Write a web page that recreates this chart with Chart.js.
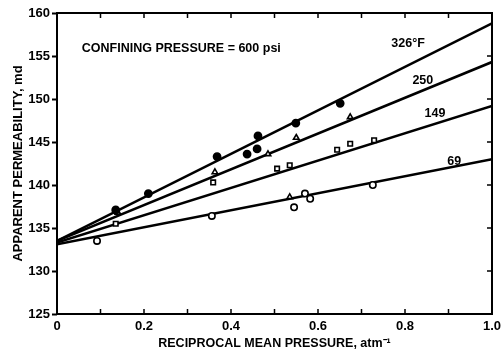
<!DOCTYPE html>
<html>
<head>
<meta charset="utf-8">
<script src="https://cdn.jsdelivr.net/npm/chart.js@4.4.1/dist/chart.umd.min.js"></script>
<style>
  html, body { margin: 0; padding: 0; background: #fff; }
  #wrap { width: 502px; height: 351px; }
</style>
</head>
<body>
<div id="wrap"><canvas id="permChart"></canvas></div>
<script>
// --- data ---
const xTickValues = [0, 0.2, 0.4, 0.6, 0.8, 1.0];
const xTickLabels = ['0', '0.2', '0.4', '0.6', '0.8', '1.0'];

const seriesNames = ['326°F', '250', '149', '69'];
const lineX = [0, 1];
const line326 = [133.5, 158.8];
const line250 = [133.5, 154.3];
const line149 = [133.3, 149.2];
const line69 = [133.1, 143.0];

const x326 = [0.135, 0.21, 0.368, 0.437, 0.46, 0.462, 0.549, 0.651];
const y326 = [137.1, 139.0, 143.3, 143.6, 144.2, 145.7, 147.2, 149.5];
const x250 = [0.14, 0.363, 0.485, 0.55, 0.674];
const y250 = [136.8, 141.5, 143.6, 145.5, 147.9];
const x149 = [0.135, 0.359, 0.506, 0.535, 0.644, 0.674, 0.729];
const y149 = [135.5, 140.3, 141.9, 142.3, 144.1, 144.8, 145.2];
const x69 = [0.092, 0.356, 0.535, 0.545, 0.57, 0.582, 0.726];
const y69 = [133.5, 136.4, 138.6, 137.4, 139.0, 138.4, 140.0];
const style69 = ['circle', 'circle', 'triangle', 'circle', 'circle', 'circle', 'circle'];

// where the curve labels sit (data units)
const labelX = [0.807, 0.841, 0.869, 0.913];
const labelY = [156.4, 152.2, 148.3, 142.7];
const noteText = 'CONFINING PRESSURE = 600 psi';

const pts = (xs, ys) => xs.map((x, i) => ({ x: x, y: ys[i] }));

const FONT = '"Liberation Sans", Arial, sans-serif';
Chart.defaults.color = '#000';
Chart.defaults.font.family = FONT;
Chart.defaults.font.weight = 'bold';

const lineDs = (d) => ({ type: 'line', data: pts(lineX, d), borderColor: '#000', borderWidth: 2.6, pointRadius: 0, fill: false, order: 2 });
const markDs = (xs, ys, style, filled) => ({
    type: 'scatter', data: pts(xs, ys), pointStyle: style, pointRadius: filled ? 3.6 : 3.2,
    backgroundColor: filled ? '#000' : '#fff', borderColor: '#000', borderWidth: 1.6, order: 1
});

// frame, inward ticks and text notes
const decor = {
    id: 'decor',
    afterDraw(chart) {
        const c = chart.ctx, a = chart.chartArea, sx = chart.scales.x, sy = chart.scales.y;
        c.save();
        c.strokeStyle = '#000';
        c.lineWidth = 2;
        c.strokeRect(a.left, a.top, a.right - a.left, a.bottom - a.top);
        c.lineWidth = 1.5;
        c.beginPath();
        sx.ticks.forEach(t => {
            const px = sx.getPixelForValue(t.value);
            c.moveTo(px, a.bottom); c.lineTo(px, a.bottom - 5);
            c.moveTo(px, a.top); c.lineTo(px, a.top + 5);
        });
        sy.ticks.forEach(t => {
            const py = sy.getPixelForValue(t.value);
            c.moveTo(a.right, py); c.lineTo(a.right - 5, py);
        });
        c.stroke();

        c.fillStyle = '#000';
        c.textBaseline = 'middle';
        c.textAlign = 'left';
        c.font = 'bold 12.5px ' + FONT;
        c.fillText(noteText, sx.getPixelForValue(0.057), sy.getPixelForValue(155.9));
        c.textAlign = 'center';
        seriesNames.forEach((s, i) => {
            c.fillText(s, sx.getPixelForValue(labelX[i]), sy.getPixelForValue(labelY[i]));
        });
        c.restore();
    }
};

const ctx = document.getElementById('permChart').getContext('2d');
const permChart = new Chart(ctx, {
    data: {
        datasets: [
            lineDs(line326), lineDs(line250), lineDs(line149), lineDs(line69),
            markDs(x326, y326, 'circle', true),
            markDs(x250, y250, 'triangle', false),
            markDs(x149, y149, 'rect', false),
            markDs(x69, y69, style69, false)
        ]
    },
    options: {
        responsive: true, maintainAspectRatio: false, animation: false,
        layout: { padding: { top: 13, right: 10, left: 0, bottom: 0 } },
        plugins: { legend: { display: false }, tooltip: { enabled: false } },
        scales: {
            x: {
                type: 'linear', min: 0, max: 1,
                afterFit: s => { s.height = 37; },
                grid: { display: false }, border: { display: false },
                ticks: {
                    stepSize: 0.1, autoSkip: false, maxRotation: 0, padding: -3,
                    font: { size: 13, weight: 'bold' },
                    callback: v => {
                        const i = xTickValues.findIndex(t => Math.abs(t - v) < 1e-6);
                        return i >= 0 ? xTickLabels[i] : '';
                    }
                },
                title: { display: true, text: 'RECIPROCAL MEAN PRESSURE, atm⁻¹', font: { size: 12.5, weight: 'bold' }, padding: { top: 0, bottom: 0 } }
            },
            y: {
                type: 'linear', min: 125, max: 160,
                afterFit: s => { s.width = 57; },
                grid: { drawOnChartArea: false, tickLength: 5, tickWidth: 2, tickColor: '#000' },
                border: { display: false },
                ticks: { stepSize: 5, padding: 2, font: { size: 13, weight: 'bold' } },
                title: { display: true, text: 'APPARENT PERMEABILITY, md', font: { size: 13, weight: 'bold' }, padding: { top: 11, bottom: 0 } }
            }
        }
    },
    plugins: [decor]
});
</script>
</body>
</html>
